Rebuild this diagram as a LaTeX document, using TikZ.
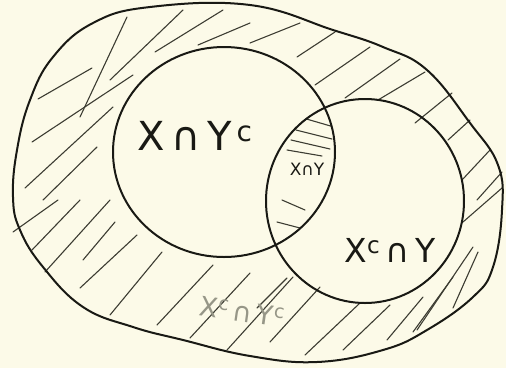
\documentclass[tikz,border=0pt]{standalone}
\usepackage{fontspec}
\setmainfont{DejaVu Sans}
\definecolor{vnpaper}{RGB}{252,250,232}
\definecolor{vnink}{RGB}{25,25,20}
\definecolor{vnhatch}{RGB}{60,60,50}
\definecolor{vnfaint}{RGB}{150,150,135}
\tikzset{
  rim/.style={vnink,line width=2pt,line join=round},
  hatch/.style={vnhatch,line width=1.1pt,line cap=round},
  lbl/.style={text=vnink,inner sep=0pt},
}

\begin{document}
\begin{tikzpicture}[x=1pt,y=-1pt]
    % Paper
    \fill[vnpaper] (0,0) rectangle (506,368);
    \useasboundingbox (0,0) rectangle (506,368);

    % Hatching of the outer band
    \foreach \ax/\ay/\bx/\by in {
        38/99/92/68, 80/117/127/17, 32/142/133/75, 110/80/183/10,
        155/52/223/10, 198/45/250/23, 25/188/113/107, 43/200/97/147,
        250/43/300/23, 297/57/335/32, 315/85/370/47, 345/98/400/59,
        378/100/425/72, 415/123/452/93, 448/140/470/120, 462/180/490/150,
        477/200/502/172, 463/222/502/188, 417/330/473/247, 453/308/478/252,
        257/308/287/278, 270/342/320/287, 305/355/360/303, 343/350/390/305,
        387/340/423/297, 413/332/453/277,
        13/232/58/200, 32/250/80/200, 45/272/110/200, 83/260/115/222,
        80/288/137/235, 110/315/162/252, 157/325/213/265, 190/338/250/273,
        227/350/293/277} {
        \draw[hatch] (\ax,\ay) -- (\bx,\by);
    }

    % Hatching of the lens
    \begin{scope}
        \clip (224,152) ellipse [x radius=111pt,y radius=105pt];
        \clip (365,201) ellipse [x radius=99pt,y radius=102pt];
        \foreach \ax/\ay/\bx/\by in {
            303/118/334/127, 296/130/332/139, 291/140/330/149,
            287/150/322/156, 282/200/305/210, 277/222/300/228} {
            \draw[hatch] (\ax,\ay) -- (\bx,\by);
        }
    \end{scope}

    % Outer set and the two circles
    \draw[rim] plot[smooth cycle,tension=0.7] coordinates {
        (13,197) (17,150) (30,100) (53,57) (93,23) (150,7) (250,5)
        (333,30) (383,47) (427,70) (470,123) (498,165) (502,210)
        (493,267) (473,297) (427,330) (383,350) (317,362) (250,356)
        (183,340) (133,327) (83,307) (43,267) (20,230)};
    \draw[rim] (224,152) ellipse [x radius=111pt,y radius=105pt];
    \draw[rim] (365,201) ellipse [x radius=99pt,y radius=102pt];

    % Labels
    \node[lbl,font=\fontsize{40}{40}\selectfont] (xnyc) at (195,136) {X\,∩\,Y\textsuperscript{\,c}};
    \node[lbl,font=\fontsize{17}{17}\selectfont] (xny) at (307,169) {X∩Y};
    \node[lbl,font=\fontsize{33}{33}\selectfont] (xcny) at (390,250) {X\textsuperscript{c}\,∩\,Y};
    \node[lbl,text=vnfaint,font=\fontsize{27}{27}\selectfont,rotate=-8] (xcnyc) at (242,312) {X\textsuperscript{c}\,∩\,Y\textsuperscript{c}};
\end{tikzpicture}
\end{document}
